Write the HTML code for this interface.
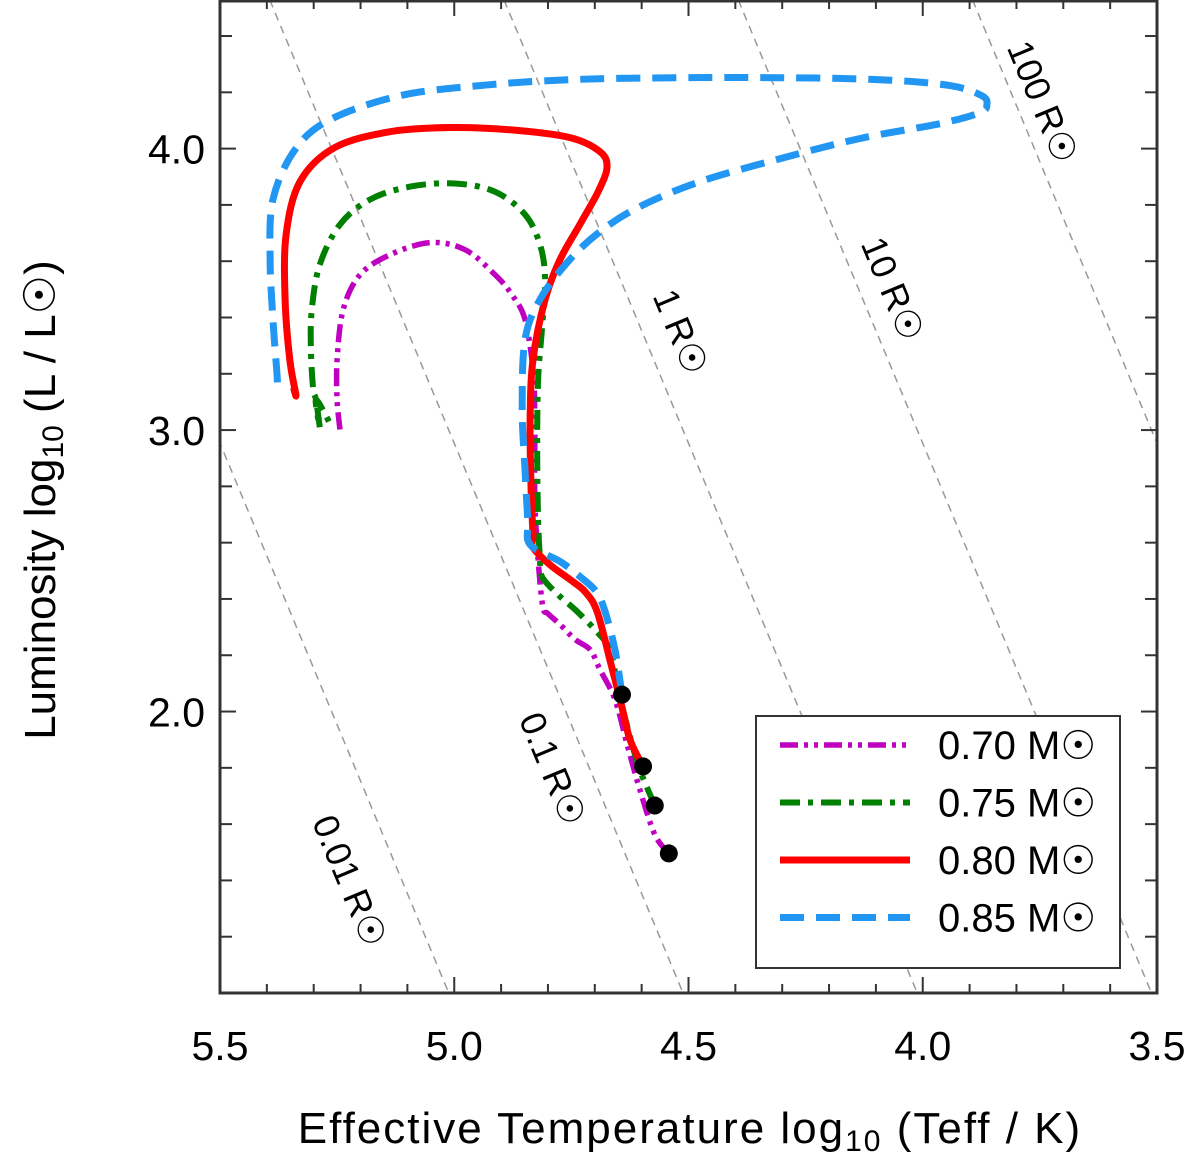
<!DOCTYPE html>
<html><head><meta charset="utf-8"><style>
html,body{margin:0;padding:0;background:#fff;overflow:hidden;width:1200px;height:1167px}
svg{display:block;font-family:"Liberation Sans","DejaVu Sans",sans-serif}
</style></head><body>
<svg id="chart" width="1200" height="1167" viewBox="0 0 1200 1167" xmlns="http://www.w3.org/2000/svg">
<defs><clipPath id="clip"><rect x="220" y="0" width="937" height="993"/></clipPath></defs>
<g id="grid" clip-path="url(#clip)"></g>
<g id="tracks" clip-path="url(#clip)"></g>
<g id="axes"></g>
</svg>
<script>
const NS="http://www.w3.org/2000/svg";
const xMin=5.5,xMax=3.5,yMin=1.0,yMax=4.528;
const PL=220,PR=1157,PT=0,PB=993;
function X(t){return PL+(xMin-t)/(xMin-xMax)*(PR-PL);}
function Y(l){return PB-(l-yMin)/(yMax-yMin)*(PB-PT);}
const radii=[0.01,0.1,1,10,100];
const radiusLabels=["0.01","0.1","1","10","100"];
const xTicks=[5.5,5.0,4.5,4.0,3.5];
const xTickLabels=["5.5","5.0","4.5","4.0","3.5"];
const yTicks=[2.0,3.0,4.0];
const yTickLabels=["2.0","3.0","4.0"];
const masses=["0.70","0.75","0.80","0.85"];
const colors=["#c000c0","#008000","#ff0000","#2196f3"];
function px2d(p){return p.map(([x,y])=>[+(5.5-(x-220)/468.5).toFixed(3),+(4.0-(y-149)/281.5).toFixed(3)]);}
const track070=px2d([[669,854],[655,835],[640,790],[627,745],[615,700],[600,670],[590,650],[575,640],[560,625],[548,614],[543,607],[538,560],[535,500],[535,420],[533,370],[525,320],[512,295],[495,275],[465,250],[430,243],[390,255],[360,275],[343,310],[337,360],[337,400],[340,430]]);
const track075=px2d([[655,806],[640,770],[628,730],[618,690],[610,650],[595,630],[575,610],[558,595],[542,577],[540,560],[538,520],[537,450],[538,380],[542,330],[545,280],[540,245],[525,215],[495,192],[455,184],[410,187],[370,200],[340,225],[320,265],[312,310],[311,350],[313,390],[316,400],[320,428],[316,400],[330,424]]);
const track080=px2d([[643,767],[630,740],[620,700],[610,660],[597,612],[585,592],[570,580],[550,565],[533,548],[533,535],[531,490],[530,420],[533,360],[545,300],[560,260],[580,225],[598,192],[607,168],[600,152],[570,138],[510,130],[450,128],[390,132],[335,148],[300,182],[286,235],[285,300],[290,360],[296,395],[294,390]]);
const track085=px2d([[622,695],[615,650],[605,612],[596,592],[580,577],[560,562],[530,545],[528,520],[525,470],[522,410],[525,340],[540,300],[568,262],[600,232],[640,207],[700,182],[780,159],[860,139],[940,124],[980,113],[987,105],[982,96],[950,86],[880,80],[780,78],[680,78],[570,80],[480,86],[400,96],[330,120],[295,150],[273,200],[270,260],[273,320],[277,378],[276,386],[272,386]]);
const tracks=[track070,track075,track080,track085];
const dashes=["18,6,4,6,4,6","20,8,5,8","none","24,12"];
const widths=[5.5,6,7,7];
const names=["track-0.70","track-0.75","track-0.80","track-0.85"];

const grid=document.getElementById('grid'),tg=document.getElementById('tracks'),ax=document.getElementById('axes');
function mk(tag,attrs,parent){const e=document.createElementNS(NS,tag);for(const k in attrs)e.setAttribute(k,attrs[k]);parent.appendChild(e);return e;}
function smooth(pts){
  let d='M'+pts[0][0].toFixed(1)+','+pts[0][1].toFixed(1);
  for(let i=0;i<pts.length-1;i++){
    const p0=pts[Math.max(0,i-1)],p1=pts[i],p2=pts[i+1],p3=pts[Math.min(pts.length-1,i+2)];
    const c1=[p1[0]+(p2[0]-p0[0])/6,p1[1]+(p2[1]-p0[1])/6];
    const c2=[p2[0]-(p3[0]-p1[0])/6,p2[1]-(p3[1]-p1[1])/6];
    d+=' C'+c1[0].toFixed(1)+','+c1[1].toFixed(1)+' '+c2[0].toFixed(1)+','+c2[1].toFixed(1)+' '+p2[0].toFixed(1)+','+p2[1].toFixed(1);
  }
  return d;
}
const TSUN=3.7617;
function tempAt(r,l){return TSUN+(l-2*Math.log10(r))/4;}
radii.forEach((r,i)=>{
  const l=mk('line',{x1:X(tempAt(r,yMax)),y1:Y(yMax),x2:X(tempAt(r,yMin)),y2:Y(yMin),stroke:'#999','stroke-width':1.5,'stroke-dasharray':'8,6'},grid);
  
  
});
const labPos=[[347,882],[550,770],[678,333],[890,290],[1040,103]];
labPos.forEach(([x,y],i)=>{
  const t=mk('text',{x:x,y:y,'font-size':36,'text-anchor':'middle','dominant-baseline':'middle',transform:`rotate(67.4 ${x} ${y})`,fill:'#000'},ax);
  t.textContent=radiusLabels[i]+' R\u2609';
  
  
});
tracks.forEach((tr,i)=>{
  const d=smooth(tr.map(p=>[X(p[0]),Y(p[1])]));
  const a={d:d,fill:'none',stroke:colors[i],'stroke-width':widths[i],'stroke-linejoin':'round','stroke-linecap':'round'};
  if(dashes[i]!=='none'){a['stroke-dasharray']=dashes[i];a['stroke-linecap']='butt';}
  const p=mk('path',a,tg);
  
  
});
tracks.forEach((tr,i)=>{
  const c=mk('circle',{cx:X(tr[0][0]),cy:Y(tr[0][1]),r:9,fill:'#000'},tg);
  
  
});
const fr=mk('rect',{x:PL,y:PT+1,width:PR-PL,height:PB-PT-1,fill:'none',stroke:'#333','stroke-width':3},ax);


for(let k=0;k<=20;k++){const t=3.5+k*0.1;const x=X(t);const major=k%5===0;const L=major?16:9;
  mk('line',{x1:x,y1:PB,x2:x,y2:PB-L,stroke:'#333','stroke-width':2},ax);
  mk('line',{x1:x,y1:PT,x2:x,y2:PT+L,stroke:'#333','stroke-width':2},ax);}
for(let k=0;k<=18;k++){const l=1.0+k*0.2;const y=Y(l);if(y<PT)continue;const major=Math.abs(l-Math.round(l))<1e-6;const L=major?16:12;
  mk('line',{x1:PL,y1:y,x2:PL+L,y2:y,stroke:'#333','stroke-width':2},ax);
  mk('line',{x1:PR,y1:y,x2:PR-L,y2:y,stroke:'#333','stroke-width':2},ax);}
xTicks.forEach((t,i)=>{const e=mk('text',{x:X(t),y:1060,'font-size':41,'text-anchor':'middle',fill:'#000'},ax);e.textContent=xTickLabels[i];
  
  });
yTicks.forEach((l,i)=>{const e=mk('text',{x:205,y:Y(l)+15,'font-size':41,'text-anchor':'end',fill:'#000'},ax);e.textContent=yTickLabels[i];
  
  });
const lg=mk('g',{},ax);


mk('rect',{x:756,y:716,width:364,height:252,fill:'#fff',stroke:'#333','stroke-width':2},lg);
masses.forEach((m,i)=>{const y=745+i*57.5;
  const a={x1:780,y1:y,x2:910,y2:y,stroke:colors[i],'stroke-width':widths[i]};
  if(dashes[i]!=='none')a['stroke-dasharray']=dashes[i];
  const ln=mk('line',a,lg);
  
  
  const t=mk('text',{x:938,y:y+14,'font-size':40,fill:'#000'},lg);t.textContent=m+' M\u2609';
  
  });
const svg=document.getElementById('chart');
const xt=document.createElementNS(NS,'text');
xt.setAttribute('x',690);xt.setAttribute('y',1143);xt.setAttribute('font-size',44);xt.setAttribute('text-anchor','middle');
xt.setAttribute('letter-spacing','2');


xt.innerHTML='Effective Temperature  log<tspan font-size="30" dy="8">10</tspan><tspan dy="-8"> (Teff / K)</tspan>';
svg.appendChild(xt);
const yt=document.createElementNS(NS,'text');
yt.setAttribute('x',0);yt.setAttribute('y',0);yt.setAttribute('font-size',44);yt.setAttribute('text-anchor','middle');
yt.setAttribute('transform','translate(55,500) rotate(-90)');


yt.innerHTML='Luminosity   log<tspan font-size="30" dy="8">10</tspan><tspan dy="-8"> (L / L\u2609)</tspan>';
svg.appendChild(yt);
</script>
</body></html>
